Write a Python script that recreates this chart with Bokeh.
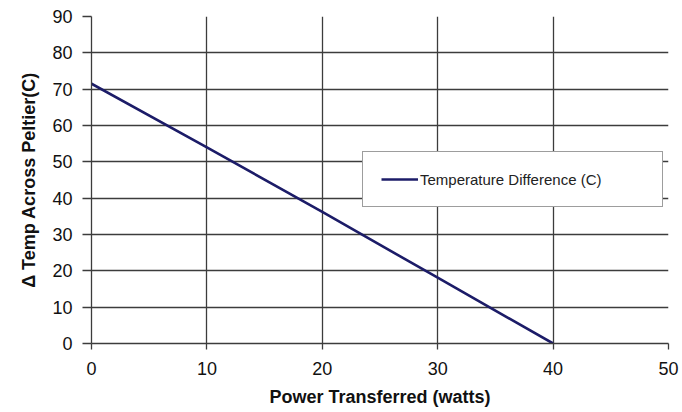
from bokeh.plotting import figure
from bokeh.models import Range1d, FixedTicker, Legend, LegendItem
from bokeh.embed import file_html
from bokeh.resources import INLINE

# Data
power_watts = [0, 10, 20, 30, 40]
temp_diff_c = [71.5, 54.0, 36.2, 18.1, 0.0]
x_ticks = [0, 10, 20, 30, 40, 50]
y_ticks = [0, 10, 20, 30, 40, 50, 60, 70, 80, 90]
series_name = "Temperature Difference (C)"

FONT = "Liberation Sans"
GRID = "#3c3c3c"
LINE = "#1c1c68"

p = figure(width=682, height=412, output_backend="svg", toolbar_location=None,
           x_range=Range1d(0, 50), y_range=Range1d(0, 90),
           min_border_left=91, min_border_right=14, min_border_top=16, min_border_bottom=69)
p.background_fill_color = "white"
p.border_fill_color = "white"
p.outline_line_color = None

r = p.line(power_watts, temp_diff_c, line_color=LINE, line_width=2.6)

for ax in (p.xaxis[0], p.yaxis[0]):
    ax.axis_line_color = GRID
    ax.axis_line_width = 1.3
    ax.major_tick_line_color = GRID
    ax.major_tick_line_width = 1.3
    ax.major_tick_in = 0
    ax.minor_tick_line_color = None
    ax.major_label_text_font = FONT
    ax.major_label_text_font_size = "18px"
    ax.major_label_text_color = "#111111"
    ax.axis_label_text_font = FONT
    ax.axis_label_text_font_size = "18px"
    ax.axis_label_text_font_style = "bold"
    ax.axis_label_text_color = "#111111"

p.xaxis[0].ticker = FixedTicker(ticks=x_ticks)
p.yaxis[0].ticker = FixedTicker(ticks=y_ticks)
p.xaxis[0].major_tick_out = 6
p.yaxis[0].major_tick_out = 9
p.xaxis[0].major_label_standoff = 12
p.yaxis[0].major_label_standoff = 10
p.xaxis[0].axis_label_standoff = 9
p.yaxis[0].axis_label_standoff = 10
p.xaxis[0].axis_label = "Power Transferred (watts)"
p.yaxis[0].axis_label = "\u0394 Temp Across Peltier(C)"

p.xgrid.grid_line_color = GRID
p.ygrid.grid_line_color = GRID
p.xgrid.grid_line_width = 1.3
p.ygrid.grid_line_width = 1.3
p.xgrid.ticker = FixedTicker(ticks=x_ticks)
p.ygrid.ticker = FixedTicker(ticks=y_ticks)

legend = Legend(items=[LegendItem(label=series_name, renderers=[r])],
                location=(271, 136), orientation="vertical",
                padding=18, margin=0, spacing=0,
                glyph_width=37, glyph_height=18, label_height=18,
                label_standoff=2, label_width=224,
                label_text_font=FONT, label_text_font_size="15px",
                label_text_color="#222222",
                border_line_color=GRID, border_line_width=1.2,
                background_fill_color="white", background_fill_alpha=1.0)
p.add_layout(legend, "center")

open("out.html", "w").write(file_html(p, INLINE))
